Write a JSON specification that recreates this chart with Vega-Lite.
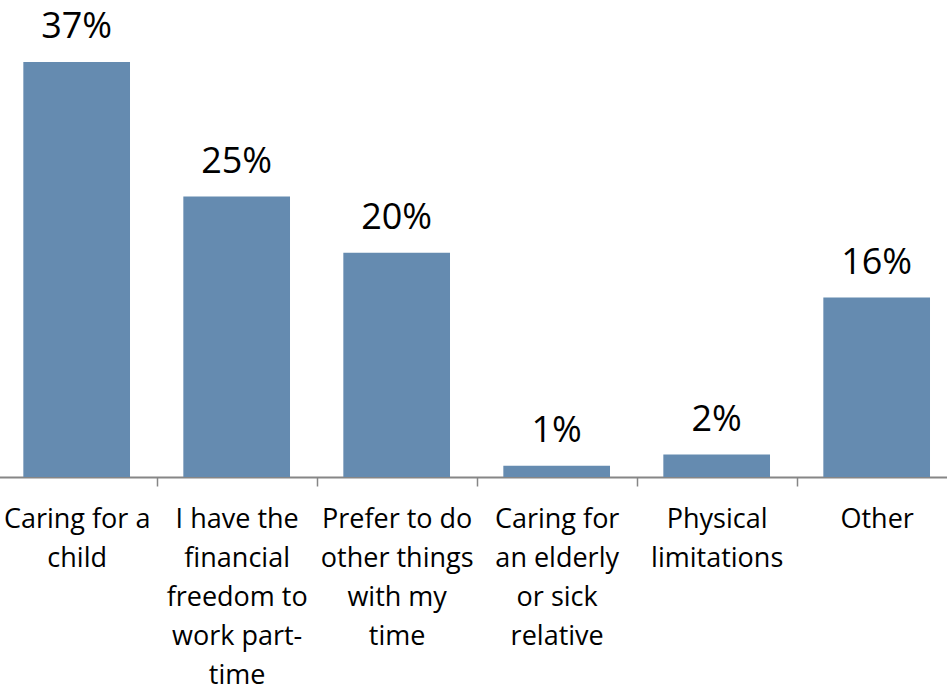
{
  "$schema": "https://vega.github.io/schema/vega-lite/v6.json",
  "width": 947,
  "height": 477,
  "autosize": {"type": "none"},
  "padding": {"left": 0, "top": 0, "right": 0, "bottom": 210},
  "background": "white",
  "config": {"view": {"stroke": null}, "font": "Open Sans"},
  "data": {
    "values": [
      {"reason": "Caring for a child", "share": 0.37},
      {"reason": "I have the financial freedom to work part-time", "share": 0.25},
      {"reason": "Prefer to do other things with my time", "share": 0.20},
      {"reason": "Caring for an elderly or sick relative", "share": 0.01},
      {"reason": "Physical limitations", "share": 0.02},
      {"reason": "Other", "share": 0.16}
    ]
  },
  "encoding": {
    "x": {
      "field": "reason",
      "type": "nominal",
      "sort": null,
      "scale": {"range": [-3.33, 956.67], "paddingInner": 0, "paddingOuter": 0},
      "axis": {
        "title": null,
        "labelAngle": 0,
        "labelFont": "Open Sans",
        "labelFontSize": 27,
        "labelColor": "black",
        "labelLineHeight": 39,
        "labelPadding": 20,
        "labelLimit": 0,
        "labelBaseline": "top",
        "labelOverlap": false,
        "labelBound": false,
        "tickBand": "extent",
        "tickSize": 9,
        "tickColor": "#868686",
        "tickWidth": 1.5,
        "domainColor": "#868686",
        "domainWidth": 2,
        "labelExpr": "{'Caring for a child': ['Caring for a', 'child'], 'I have the financial freedom to work part-time': ['I have the', 'financial', 'freedom to', 'work part-', 'time'], 'Prefer to do other things with my time': ['Prefer to do', 'other things', 'with my', 'time'], 'Caring for an elderly or sick relative': ['Caring for', 'an elderly', 'or sick', 'relative'], 'Physical limitations': ['Physical', 'limitations'], 'Other': ['Other']}[datum.value]"
      }
    },
    "y": {
      "field": "share",
      "type": "quantitative",
      "scale": {"domain": [0, 0.4253], "nice": false},
      "axis": null
    }
  },
  "layer": [
    {"mark": {"type": "bar", "color": "#658bb0", "width": {"band": 0.6667}}},
    {
      "mark": {"type": "text", "baseline": "alphabetic", "dy": -24, "fontSize": 36, "font": "Open Sans", "color": "black"},
      "encoding": {"text": {"field": "share", "type": "quantitative", "format": ".0%"}}
    }
  ]
}
